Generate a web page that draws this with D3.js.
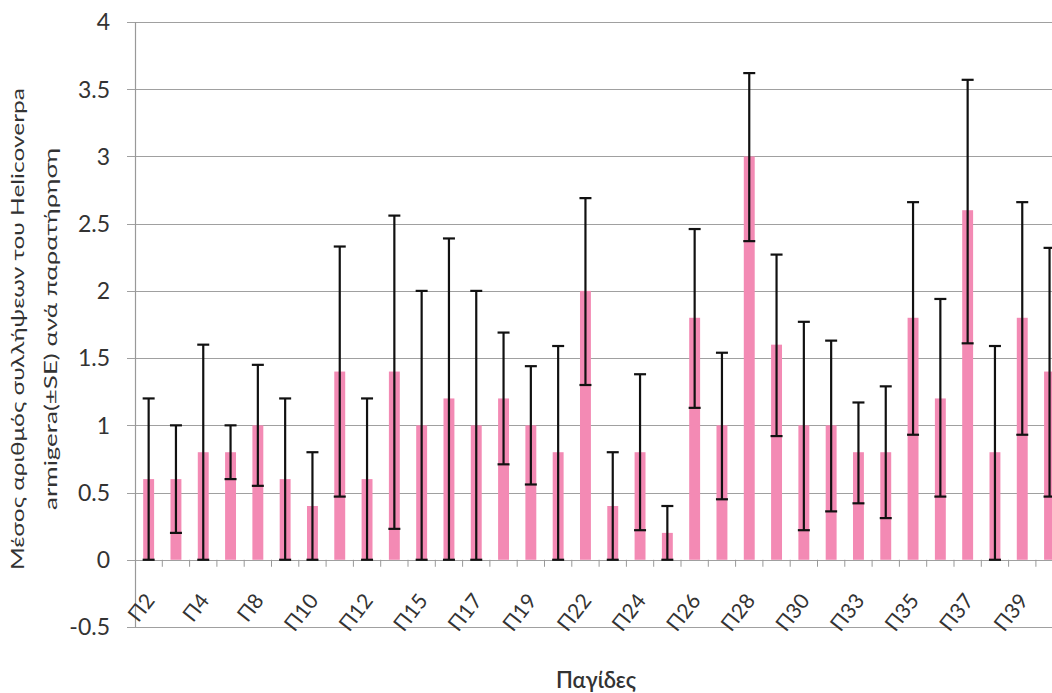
<!DOCTYPE html>
<html>
<head>
<meta charset="utf-8">
<script src="https://cdn.jsdelivr.net/npm/d3@7/dist/d3.min.js"></script>
<style>
  html, body { margin: 0; padding: 0; background: #fff; overflow: hidden; }
  svg { display: block; }
  text { font-family: Lato, "Open Sans", sans-serif; fill: #333; }
</style>
</head>
<body>
<svg id="chart" width="1052" height="693"></svg>
<script>
// ---- data ----
const categories = ["Π2","Π3","Π4","Π7","Π8","Π9","Π10","Π11","Π12","Π13","Π15","Π16","Π17","Π18","Π19","Π20","Π22","Π23","Π24","Π25","Π26","Π27","Π28","Π29","Π30","Π31","Π33","Π34","Π35","Π36","Π37","Π38","Π39","Π40"];
const means    = [0.6,0.6,0.8,0.8,1.0,0.6,0.4,1.4,0.6,1.4,1.0,1.2,1.0,1.2,1.0,0.8,2.0,0.4,0.8,0.2,1.8,1.0,3.0,1.6,1.0,1.0,0.8,0.8,1.8,1.2,2.6,0.8,1.8,1.4];
const seLow    = [0,0.2,0,0.6,0.55,0,0,0.47,0,0.23,0,0,0,0.71,0.56,0,1.3,0,0.22,0,1.13,0.45,2.37,0.92,0.22,0.36,0.42,0.31,0.93,0.47,1.61,0,0.93,0.47];
const seHigh   = [1.2,1.0,1.6,1.0,1.45,1.2,0.8,2.33,1.2,2.56,2.0,2.39,2.0,1.69,1.44,1.59,2.69,0.8,1.38,0.4,2.46,1.54,3.62,2.27,1.77,1.63,1.17,1.29,2.66,1.94,3.57,1.59,2.66,2.32];
const yTicks   = [-0.5,0,0.5,1,1.5,2,2.5,3,3.5,4];
const yTitle1  = "Μέσος αριθμός συλλήψεων του Helicoverpa";
const yTitle2  = "armigera(±SE) ανά παρατήρηση";
const xTitle   = "Παγίδες";

// ---- layout ----
const svg = d3.select("#chart");
const plotLeft = 135, plotTop = 22, plotBottom = 627;
const step = 27.3;
const plotRight = plotLeft + step * categories.length;

const x = d3.scaleBand().domain(categories).range([plotLeft, plotRight]).paddingInner(0.6).paddingOuter(0.3);
const xb = d3.scaleBand().domain(categories).range([plotLeft, plotRight]).padding(0);
const y = d3.scaleLinear().domain([-0.5, 4]).range([plotBottom, plotTop]);

// gridlines
svg.append("g").selectAll("line").data(yTicks).join("line")
  .attr("x1", plotLeft - 8).attr("x2", plotRight)
  .attr("y1", d => Math.round(y(d)) + 0.5).attr("y2", d => Math.round(y(d)) + 0.5)
  .attr("stroke", "#a0a0a0").attr("stroke-width", 1.2);

// left axis line
svg.append("line").attr("x1", plotLeft + 0.5).attr("x2", plotLeft + 0.5)
  .attr("y1", y(4)).attr("y2", y(-0.5)).attr("stroke", "#999").attr("stroke-width", 1.2);

// x tick marks at category boundaries
svg.append("g").selectAll("line").data(categories).join("line")
  .attr("x1", d => xb(d) + xb.bandwidth()).attr("x2", d => xb(d) + xb.bandwidth())
  .attr("y1", y(0)).attr("y2", y(0) + 7)
  .attr("stroke", "#999").attr("stroke-width", 1);

// y tick labels
svg.append("g").selectAll("text").data(yTicks).join("text")
  .attr("x", 110).attr("y", d => y(d)).attr("dy", "0.36em")
  .attr("text-anchor", "end").attr("font-size", 23)
  .text(d => d);

// bars
svg.append("g").selectAll("rect").data(categories).join("rect")
  .attr("x", d => x(d)).attr("width", x.bandwidth())
  .attr("y", (d, i) => y(means[i])).attr("height", (d, i) => y(0) - y(means[i]))
  .attr("fill", "#f38ab4");

// error bars
const eb = svg.append("g").attr("stroke", "#111").attr("stroke-width", 2.2);
categories.forEach((c, i) => {
  const cx = x(c) + x.bandwidth() / 2;
  eb.append("line").attr("x1", cx).attr("x2", cx).attr("y1", y(seLow[i])).attr("y2", y(seHigh[i]));
  eb.append("line").attr("x1", cx - 6).attr("x2", cx + 6).attr("y1", y(seHigh[i])).attr("y2", y(seHigh[i]));
  eb.append("line").attr("x1", cx - 6).attr("x2", cx + 6).attr("y1", y(seLow[i])).attr("y2", y(seLow[i]));
});

// x labels (every other category)
svg.append("g").selectAll("text").data(categories.filter((d, i) => i % 2 === 0)).join("text")
  .attr("transform", d => `translate(${x(d) + x.bandwidth() / 2 + 7},${601}) rotate(-52)`)
  .attr("text-anchor", "end").attr("font-size", 21)
  .text(d => d);

// axis titles
svg.append("text").attr("x", 596).attr("y", 688).attr("text-anchor", "middle")
  .attr("font-size", 22).attr("font-weight", 600).text(xTitle);

const yt = svg.append("text").attr("transform", `translate(0,329) rotate(-90)`)
  .attr("text-anchor", "middle").attr("font-size", 18);
yt.append("tspan").attr("x", 0).attr("y", 24)
  .attr("textLength", 482).attr("lengthAdjust", "spacingAndGlyphs").text(yTitle1);
yt.append("tspan").attr("x", 0).attr("y", 57)
  .attr("textLength", 362).attr("lengthAdjust", "spacingAndGlyphs").text(yTitle2);
</script>
</body>
</html>
